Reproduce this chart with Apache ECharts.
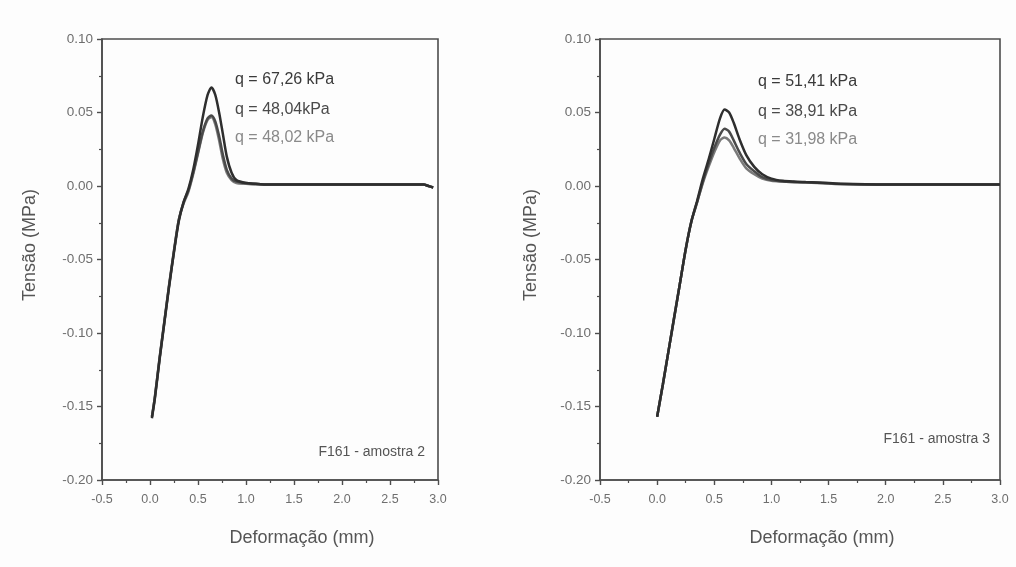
<!DOCTYPE html>
<html>
<head>
<meta charset="utf-8">
<script src="https://cdn.jsdelivr.net/npm/echarts@6/dist/echarts.min.js"></script>
<style>html,body{margin:0;padding:0;background:#fdfdfd}#c{width:1016px;height:567px}</style>
</head>
<body>
<div id="c"></div>
<script>
// ---- data ----
const xTicks = [-0.5, 0.0, 0.5, 1.0, 1.5, 2.0, 2.5, 3.0];
const yTicks = [-0.20, -0.15, -0.10, -0.05, 0.00, 0.05, 0.10];

// left panel: F161 - amostra 2
const xLeft = [0.02,0.05,0.10,0.15,0.20,0.25,0.30,0.35,0.40,0.45,0.50,0.55,0.60,0.64,0.68,0.72,0.76,0.80,0.85,0.90,1.00,1.10,1.20,1.50,2.00,2.50,2.85,2.90,2.95];
const left1 = [-0.158,-0.145,-0.118,-0.093,-0.068,-0.045,-0.024,-0.011,-0.002,0.011,0.028,0.047,0.062,0.067,0.062,0.050,0.035,0.020,0.009,0.004,0.002,0.0015,0.001,0.001,0.001,0.001,0.001,0.000,-0.001];
const left2 = [-0.157,-0.144,-0.117,-0.092,-0.067,-0.044,-0.023,-0.011,-0.003,0.009,0.023,0.037,0.046,0.048,0.044,0.034,0.021,0.011,0.005,0.003,0.002,0.0015,0.001,0.001,0.001,0.001,0.001,0.000,-0.001];
const left3 = [-0.157,-0.144,-0.117,-0.092,-0.067,-0.044,-0.023,-0.012,-0.004,0.008,0.022,0.036,0.045,0.047,0.042,0.031,0.018,0.009,0.004,0.002,0.0015,0.001,0.001,0.001,0.001,0.001,0.001,0.000,-0.001];
const leftNotes = ['q = 67,26 kPa', 'q = 48,04kPa', 'q = 48,02 kPa'];
const leftTag = 'F161 - amostra 2';

// right panel: F161 - amostra 3
const xRight = [0.00,0.05,0.10,0.15,0.20,0.25,0.30,0.35,0.40,0.45,0.50,0.55,0.59,0.63,0.67,0.72,0.78,0.85,0.92,1.00,1.10,1.20,1.30,1.40,1.50,1.60,2.00,2.50,3.00];
const right1 = [-0.157,-0.135,-0.112,-0.089,-0.066,-0.043,-0.024,-0.010,0.005,0.018,0.032,0.046,0.052,0.050,0.043,0.032,0.021,0.013,0.008,0.005,0.0035,0.003,0.0027,0.0024,0.002,0.0015,0.001,0.001,0.001];
const right2 = [-0.157,-0.135,-0.112,-0.089,-0.066,-0.043,-0.024,-0.011,0.003,0.015,0.026,0.035,0.039,0.037,0.031,0.023,0.015,0.010,0.006,0.004,0.003,0.0027,0.0025,0.0022,0.0018,0.0014,0.001,0.001,0.001];
const right3 = [-0.157,-0.135,-0.112,-0.089,-0.066,-0.043,-0.024,-0.011,0.002,0.013,0.023,0.031,0.033,0.031,0.026,0.019,0.012,0.008,0.005,0.0035,0.003,0.0026,0.0024,0.0021,0.0017,0.0013,0.001,0.001,0.001];
const rightNotes = ['q = 51,41 kPa', 'q = 38,91 kPa', 'q = 31,98 kPa'];
const rightTag = 'F161 - amostra 3';

const xName = 'Deformação (mm)';
const yName = 'Tensão (MPa)';

// ---- chart ----
const FONT = '"Liberation Sans", Arial, sans-serif';
const lineColors = ['#2e2e2e', '#4a4a4a', '#7a7a7a'];
const noteColors = ['#3a3a3a', '#4a4a4a', '#8a8a8a'];
const pair = (xs, ys) => xs.map((x, i) => [x, ys[i]]);

function xAxisFor(idx) {
  return {
    type: 'value', gridIndex: idx, min: xTicks[0], max: xTicks[xTicks.length - 1], interval: 0.5,
    axisLine: { show: true, onZero: false, lineStyle: { color: '#4d4d4d', width: 1.6 } },
    axisTick: { show: true, length: 5, lineStyle: { color: '#4d4d4d', width: 1.4 } },
    minorTick: { show: true, splitNumber: 2, length: 3, lineStyle: { color: '#4d4d4d', width: 1.2 } },
    splitLine: { show: false },
    axisLabel: { color: '#6e6e6e', fontSize: 12.5, fontFamily: FONT, margin: 13, formatter: v => v.toFixed(1) }
  };
}
function yAxisFor(idx) {
  return {
    type: 'value', gridIndex: idx, min: yTicks[0], max: yTicks[yTicks.length - 1], interval: 0.05,
    axisLine: { show: true, onZero: false, lineStyle: { color: '#4d4d4d', width: 1.6 } },
    axisTick: { show: true, length: 5, lineStyle: { color: '#4d4d4d', width: 1.4 } },
    minorTick: { show: true, splitNumber: 2, length: 3, lineStyle: { color: '#4d4d4d', width: 1.2 } },
    splitLine: { show: false },
    axisLabel: { color: '#6e6e6e', fontSize: 13.5, fontFamily: FONT, margin: 9, formatter: v => v.toFixed(2) }
  };
}
function lineSeries(idx, xs, ys, k) {
  return {
    type: 'line', xAxisIndex: idx, yAxisIndex: idx, data: pair(xs, ys), showSymbol: false,
    smooth: 0.25, lineStyle: { color: lineColors[k], width: 2.5 }, z: 3 - k, silent: true
  };
}
function txt(x, y, text, size, color, extra) {
  return Object.assign({ type: 'text', x: x, y: y, silent: true,
    style: Object.assign({ text: text, fill: color, font: size + 'px ' + FONT, textAlign: 'left', textVerticalAlign: 'middle' }, extra || {}) });
}

const graphics = [
  txt(30, 245, yName, 18, '#555', { textAlign: 'center' }),
  txt(531, 245, yName, 18, '#555', { textAlign: 'center' }),
  txt(302, 538, xName, 18, '#555', { textAlign: 'center' }),
  txt(822, 538, xName, 18, '#555', { textAlign: 'center' }),
  txt(425, 452, leftTag, 14, '#555', { textAlign: 'right' }),
  txt(990, 439, rightTag, 14, '#555', { textAlign: 'right' })
];
graphics[0].rotation = Math.PI / 2;
graphics[1].rotation = Math.PI / 2;
[80, 110, 138].forEach((y, k) => graphics.push(txt(235, y, leftNotes[k], 16, noteColors[k])));
[82, 112, 140].forEach((y, k) => graphics.push(txt(758, y, rightNotes[k], 16, noteColors[k])));

const chart = echarts.init(document.getElementById('c'), null, { renderer: 'canvas' });
chart.setOption({
  backgroundColor: '#fdfdfd',
  animation: false,
  grid: [
    { left: 102, top: 39, width: 336, height: 441, show: true, borderColor: '#4d4d4d', borderWidth: 1.6, backgroundColor: 'transparent' },
    { left: 600, top: 39, width: 400, height: 441, show: true, borderColor: '#4d4d4d', borderWidth: 1.6, backgroundColor: 'transparent' }
  ],
  xAxis: [xAxisFor(0), xAxisFor(1)],
  yAxis: [yAxisFor(0), yAxisFor(1)],
  series: [
    lineSeries(0, xLeft, left1, 0), lineSeries(0, xLeft, left2, 1), lineSeries(0, xLeft, left3, 2),
    lineSeries(1, xRight, right1, 0), lineSeries(1, xRight, right2, 1), lineSeries(1, xRight, right3, 2)
  ],
  graphic: graphics
});
</script>
</body>
</html>
